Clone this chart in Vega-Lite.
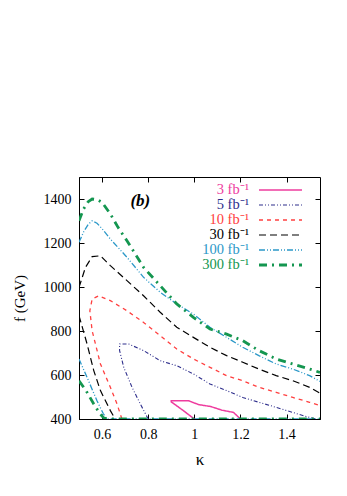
{
  "$schema": "https://vega.github.io/schema/vega-lite/v6.json",
  "autosize": {"type": "none"},
  "padding": {"left": 79, "top": 177, "right": 27, "bottom": 77},
  "width": 241,
  "height": 242,
  "background": "white",
  "config": {
    "view": {"stroke": "black", "strokeWidth": 1},
    "font": "Liberation Serif",
    "axis": {
      "labelFont": "Liberation Serif", "titleFont": "Liberation Serif",
      "labelFontSize": 14, "titleFontSize": 16, "titleFontWeight": "normal",
      "labelColor": "black", "titleColor": "black",
      "domainColor": "black", "tickColor": "black", "tickSize": -5, "grid": false
    }
  },
  "resolve": {"axis": {"x": "independent", "y": "independent"}},
  "datasets": {
    "curves": [
      {"s": "3 fb⁻¹", "g": "3a", "o": 1, "k": 1.0, "f": 400},
      {"s": "3 fb⁻¹", "g": "3a", "o": 2, "k": 0.95, "f": 440},
      {"s": "3 fb⁻¹", "g": "3a", "o": 3, "k": 0.9, "f": 478},
      {"s": "3 fb⁻¹", "g": "3a", "o": 4, "k": 0.9, "f": 483},
      {"s": "3 fb⁻¹", "g": "3a", "o": 5, "k": 0.975, "f": 483},
      {"s": "3 fb⁻¹", "g": "3a", "o": 6, "k": 1.02, "f": 465},
      {"s": "3 fb⁻¹", "g": "3a", "o": 7, "k": 1.07, "f": 457},
      {"s": "3 fb⁻¹", "g": "3a", "o": 8, "k": 1.12, "f": 440},
      {"s": "3 fb⁻¹", "g": "3a", "o": 9, "k": 1.17, "f": 430},
      {"s": "3 fb⁻¹", "g": "3a", "o": 10, "k": 1.2, "f": 400},

      {"s": "5 fb⁻¹", "g": "5a", "o": 1, "k": 0.8, "f": 400},
      {"s": "5 fb⁻¹", "g": "5a", "o": 2, "k": 0.766, "f": 468},
      {"s": "5 fb⁻¹", "g": "5a", "o": 3, "k": 0.73, "f": 544},
      {"s": "5 fb⁻¹", "g": "5a", "o": 4, "k": 0.694, "f": 635},
      {"s": "5 fb⁻¹", "g": "5a", "o": 5, "k": 0.676, "f": 711},
      {"s": "5 fb⁻¹", "g": "5a", "o": 6, "k": 0.676, "f": 741},
      {"s": "5 fb⁻¹", "g": "5a", "o": 7, "k": 0.715, "f": 741},
      {"s": "5 fb⁻¹", "g": "5a", "o": 8, "k": 0.78, "f": 711},
      {"s": "5 fb⁻¹", "g": "5a", "o": 9, "k": 0.852, "f": 665},
      {"s": "5 fb⁻¹", "g": "5a", "o": 10, "k": 0.924, "f": 642},
      {"s": "5 fb⁻¹", "g": "5a", "o": 11, "k": 0.996, "f": 605},
      {"s": "5 fb⁻¹", "g": "5a", "o": 12, "k": 1.068, "f": 559},
      {"s": "5 fb⁻¹", "g": "5a", "o": 13, "k": 1.14, "f": 529},
      {"s": "5 fb⁻¹", "g": "5a", "o": 14, "k": 1.21, "f": 498},
      {"s": "5 fb⁻¹", "g": "5a", "o": 15, "k": 1.28, "f": 476},
      {"s": "5 fb⁻¹", "g": "5a", "o": 16, "k": 1.355, "f": 453},
      {"s": "5 fb⁻¹", "g": "5a", "o": 17, "k": 1.427, "f": 430},
      {"s": "5 fb⁻¹", "g": "5a", "o": 18, "k": 1.485, "f": 411},
      {"s": "5 fb⁻¹", "g": "5a", "o": 19, "k": 1.528, "f": 400},

      {"s": "10 fb⁻¹", "g": "10a", "o": 1, "k": 0.686, "f": 400},
      {"s": "10 fb⁻¹", "g": "10a", "o": 2, "k": 0.665, "f": 468},
      {"s": "10 fb⁻¹", "g": "10a", "o": 3, "k": 0.636, "f": 544},
      {"s": "10 fb⁻¹", "g": "10a", "o": 4, "k": 0.593, "f": 650},
      {"s": "10 fb⁻¹", "g": "10a", "o": 5, "k": 0.557, "f": 801},
      {"s": "10 fb⁻¹", "g": "10a", "o": 6, "k": 0.547, "f": 892},
      {"s": "10 fb⁻¹", "g": "10a", "o": 7, "k": 0.557, "f": 945},
      {"s": "10 fb⁻¹", "g": "10a", "o": 8, "k": 0.585, "f": 960},
      {"s": "10 fb⁻¹", "g": "10a", "o": 9, "k": 0.636, "f": 938},
      {"s": "10 fb⁻¹", "g": "10a", "o": 10, "k": 0.708, "f": 892},
      {"s": "10 fb⁻¹", "g": "10a", "o": 11, "k": 0.78, "f": 839},
      {"s": "10 fb⁻¹", "g": "10a", "o": 12, "k": 0.852, "f": 779},
      {"s": "10 fb⁻¹", "g": "10a", "o": 13, "k": 0.924, "f": 718},
      {"s": "10 fb⁻¹", "g": "10a", "o": 14, "k": 0.996, "f": 673},
      {"s": "10 fb⁻¹", "g": "10a", "o": 15, "k": 1.068, "f": 635},
      {"s": "10 fb⁻¹", "g": "10a", "o": 16, "k": 1.14, "f": 597},
      {"s": "10 fb⁻¹", "g": "10a", "o": 17, "k": 1.21, "f": 574},
      {"s": "10 fb⁻¹", "g": "10a", "o": 18, "k": 1.28, "f": 544},
      {"s": "10 fb⁻¹", "g": "10a", "o": 19, "k": 1.355, "f": 521},
      {"s": "10 fb⁻¹", "g": "10a", "o": 20, "k": 1.427, "f": 498},
      {"s": "10 fb⁻¹", "g": "10a", "o": 21, "k": 1.5, "f": 476},
      {"s": "10 fb⁻¹", "g": "10a", "o": 22, "k": 1.545, "f": 461},

      {"s": "30 fb⁻¹", "g": "30a", "o": 1, "k": 0.5, "f": 998},
      {"s": "30 fb⁻¹", "g": "30a", "o": 2, "k": 0.528, "f": 1089},
      {"s": "30 fb⁻¹", "g": "30a", "o": 3, "k": 0.557, "f": 1138},
      {"s": "30 fb⁻¹", "g": "30a", "o": 4, "k": 0.593, "f": 1142},
      {"s": "30 fb⁻¹", "g": "30a", "o": 5, "k": 0.636, "f": 1097},
      {"s": "30 fb⁻¹", "g": "30a", "o": 6, "k": 0.708, "f": 1029},
      {"s": "30 fb⁻¹", "g": "30a", "o": 7, "k": 0.78, "f": 960},
      {"s": "30 fb⁻¹", "g": "30a", "o": 8, "k": 0.852, "f": 885},
      {"s": "30 fb⁻¹", "g": "30a", "o": 9, "k": 0.924, "f": 817},
      {"s": "30 fb⁻¹", "g": "30a", "o": 10, "k": 0.996, "f": 771},
      {"s": "30 fb⁻¹", "g": "30a", "o": 11, "k": 1.068, "f": 726},
      {"s": "30 fb⁻¹", "g": "30a", "o": 12, "k": 1.14, "f": 688},
      {"s": "30 fb⁻¹", "g": "30a", "o": 13, "k": 1.21, "f": 658},
      {"s": "30 fb⁻¹", "g": "30a", "o": 14, "k": 1.28, "f": 627},
      {"s": "30 fb⁻¹", "g": "30a", "o": 15, "k": 1.355, "f": 597},
      {"s": "30 fb⁻¹", "g": "30a", "o": 16, "k": 1.427, "f": 574},
      {"s": "30 fb⁻¹", "g": "30a", "o": 17, "k": 1.5, "f": 544},
      {"s": "30 fb⁻¹", "g": "30a", "o": 18, "k": 1.545, "f": 517},
      {"s": "30 fb⁻¹", "g": "30b", "o": 1, "k": 0.5, "f": 870},
      {"s": "30 fb⁻¹", "g": "30b", "o": 2, "k": 0.535, "f": 741},
      {"s": "30 fb⁻¹", "g": "30b", "o": 3, "k": 0.564, "f": 620},
      {"s": "30 fb⁻¹", "g": "30b", "o": 4, "k": 0.593, "f": 529},
      {"s": "30 fb⁻¹", "g": "30b", "o": 5, "k": 0.636, "f": 438},
      {"s": "30 fb⁻¹", "g": "30b", "o": 6, "k": 0.657, "f": 400},

      {"s": "100 fb⁻¹", "g": "100a", "o": 1, "k": 0.5, "f": 1203},
      {"s": "100 fb⁻¹", "g": "100a", "o": 2, "k": 0.52, "f": 1250},
      {"s": "100 fb⁻¹", "g": "100a", "o": 3, "k": 0.54, "f": 1285},
      {"s": "100 fb⁻¹", "g": "100a", "o": 4, "k": 0.557, "f": 1301},
      {"s": "100 fb⁻¹", "g": "100a", "o": 5, "k": 0.578, "f": 1290},
      {"s": "100 fb⁻¹", "g": "100a", "o": 6, "k": 0.6, "f": 1265},
      {"s": "100 fb⁻¹", "g": "100a", "o": 7, "k": 0.636, "f": 1218},
      {"s": "100 fb⁻¹", "g": "100a", "o": 8, "k": 0.708, "f": 1135},
      {"s": "100 fb⁻¹", "g": "100a", "o": 9, "k": 0.78, "f": 1044},
      {"s": "100 fb⁻¹", "g": "100a", "o": 10, "k": 0.852, "f": 976},
      {"s": "100 fb⁻¹", "g": "100a", "o": 11, "k": 0.924, "f": 923},
      {"s": "100 fb⁻¹", "g": "100a", "o": 12, "k": 0.996, "f": 877},
      {"s": "100 fb⁻¹", "g": "100a", "o": 13, "k": 1.068, "f": 817},
      {"s": "100 fb⁻¹", "g": "100a", "o": 14, "k": 1.14, "f": 771},
      {"s": "100 fb⁻¹", "g": "100a", "o": 15, "k": 1.21, "f": 726},
      {"s": "100 fb⁻¹", "g": "100a", "o": 16, "k": 1.28, "f": 688},
      {"s": "100 fb⁻¹", "g": "100a", "o": 17, "k": 1.355, "f": 650},
      {"s": "100 fb⁻¹", "g": "100a", "o": 18, "k": 1.427, "f": 627},
      {"s": "100 fb⁻¹", "g": "100a", "o": 19, "k": 1.5, "f": 597},
      {"s": "100 fb⁻¹", "g": "100a", "o": 20, "k": 1.545, "f": 571},
      {"s": "100 fb⁻¹", "g": "100b", "o": 1, "k": 0.5, "f": 673},
      {"s": "100 fb⁻¹", "g": "100b", "o": 2, "k": 0.535, "f": 589},
      {"s": "100 fb⁻¹", "g": "100b", "o": 3, "k": 0.578, "f": 483},
      {"s": "100 fb⁻¹", "g": "100b", "o": 4, "k": 0.605, "f": 425},
      {"s": "100 fb⁻¹", "g": "100b", "o": 5, "k": 0.62, "f": 401},
      {"s": "100 fb⁻¹", "g": "100b", "o": 6, "k": 1.545, "f": 401},

      {"s": "300 fb⁻¹", "g": "300a", "o": 1, "k": 0.5, "f": 1301},
      {"s": "300 fb⁻¹", "g": "300a", "o": 2, "k": 0.52, "f": 1355},
      {"s": "300 fb⁻¹", "g": "300a", "o": 3, "k": 0.54, "f": 1388},
      {"s": "300 fb⁻¹", "g": "300a", "o": 4, "k": 0.557, "f": 1400},
      {"s": "300 fb⁻¹", "g": "300a", "o": 5, "k": 0.58, "f": 1397},
      {"s": "300 fb⁻¹", "g": "300a", "o": 6, "k": 0.6, "f": 1385},
      {"s": "300 fb⁻¹", "g": "300a", "o": 7, "k": 0.636, "f": 1332},
      {"s": "300 fb⁻¹", "g": "300a", "o": 8, "k": 0.67, "f": 1270},
      {"s": "300 fb⁻¹", "g": "300a", "o": 9, "k": 0.708, "f": 1210},
      {"s": "300 fb⁻¹", "g": "300a", "o": 10, "k": 0.75, "f": 1140},
      {"s": "300 fb⁻¹", "g": "300a", "o": 11, "k": 0.78, "f": 1089},
      {"s": "300 fb⁻¹", "g": "300a", "o": 12, "k": 0.852, "f": 1006},
      {"s": "300 fb⁻¹", "g": "300a", "o": 13, "k": 0.924, "f": 923},
      {"s": "300 fb⁻¹", "g": "300a", "o": 14, "k": 0.996, "f": 862},
      {"s": "300 fb⁻¹", "g": "300a", "o": 15, "k": 1.068, "f": 809},
      {"s": "300 fb⁻¹", "g": "300a", "o": 16, "k": 1.14, "f": 786},
      {"s": "300 fb⁻¹", "g": "300a", "o": 17, "k": 1.21, "f": 756},
      {"s": "300 fb⁻¹", "g": "300a", "o": 18, "k": 1.28, "f": 711},
      {"s": "300 fb⁻¹", "g": "300a", "o": 19, "k": 1.355, "f": 673},
      {"s": "300 fb⁻¹", "g": "300a", "o": 20, "k": 1.427, "f": 650},
      {"s": "300 fb⁻¹", "g": "300a", "o": 21, "k": 1.5, "f": 627},
      {"s": "300 fb⁻¹", "g": "300a", "o": 22, "k": 1.545, "f": 612},
      {"s": "300 fb⁻¹", "g": "300b", "o": 1, "k": 0.5, "f": 574},
      {"s": "300 fb⁻¹", "g": "300b", "o": 2, "k": 0.53, "f": 530},
      {"s": "300 fb⁻¹", "g": "300b", "o": 3, "k": 0.564, "f": 468},
      {"s": "300 fb⁻¹", "g": "300b", "o": 4, "k": 0.59, "f": 425},
      {"s": "300 fb⁻¹", "g": "300b", "o": 5, "k": 0.607, "f": 405},
      {"s": "300 fb⁻¹", "g": "300b", "o": 6, "k": 0.62, "f": 401},
      {"s": "300 fb⁻¹", "g": "300b", "o": 7, "k": 1.545, "f": 401}
    ]
  },
  "layer": [
    {
      "data": {"name": "curves"},
      "mark": {"type": "line", "clip": true},
      "encoding": {
        "x": {"field": "k", "type": "quantitative",
              "scale": {"domain": [0.5, 1.545], "nice": false, "zero": false},
              "axis": {"title": "κ", "values": [0.6, 0.8, 1, 1.2, 1.4], "format": "~g", "labelPadding": 13, "titlePadding": 10, "titleFontSize": 17}},
        "y": {"field": "f", "type": "quantitative",
              "scale": {"domain": [400, 1500], "nice": false, "zero": false},
              "axis": {"title": "f (GeV)", "values": [400, 600, 800, 1000, 1200, 1400], "format": "d", "labelPadding": 13, "titlePadding": 16, "titleFontSize": 15}},
        "detail": {"field": "g"},
        "order": {"field": "o"},
        "color": {"field": "s", "type": "nominal",
                  "scale": {"domain": ["3 fb⁻¹", "5 fb⁻¹", "10 fb⁻¹", "30 fb⁻¹", "100 fb⁻¹", "300 fb⁻¹"],
                            "range": ["#ee3c9e", "#2e2e8c", "#ff4040", "#000000", "#2b98c8", "#149650"]},
                  "legend": {
                    "title": null, "orient": "none", "legendX": 180, "legendY": 6,
                    "symbolType": "stroke", "symbolSize": 100, "labelFont": "Liberation Serif", "labelFontSize": 14.5,
                    "rowPadding": 0, "clipHeight": 14,
                    "encode": {
                      "entries": {"update": {"width": {"value": 50}, "height": {"value": 14}}},
                      "symbols": {"update": {"size": {"value": 1850}, "xc": {"value": 21.5}, "clip": {"value": false}}},
                      "labels": {"update": {"x": {"value": -10}, "align": {"value": "right"}, "fill": {"scale": "color", "field": "value"}}}
                    }
                  }},
        "strokeDash": {"field": "s", "type": "nominal",
                  "scale": {"domain": ["3 fb⁻¹", "5 fb⁻¹", "10 fb⁻¹", "30 fb⁻¹", "100 fb⁻¹", "300 fb⁻¹"],
                            "range": [[1, 0], [4, 2, 1, 2, 1, 2], [4, 4], [7, 4], [6, 2, 1, 2, 1, 2], [8, 5, 2, 5]]},
                  "legend": null},
        "strokeWidth": {"field": "s", "type": "nominal",
                  "scale": {"type": "ordinal", "domain": ["3 fb⁻¹", "5 fb⁻¹", "10 fb⁻¹", "30 fb⁻¹", "100 fb⁻¹", "300 fb⁻¹"],
                            "range": [1.5, 1.1, 1.3, 1.2, 1.3, 2.8]},
                  "legend": null}
      }
    },
    {
      "data": {"values": [{}]},
      "mark": {"type": "text", "text": "(b)", "font": "Liberation Serif", "fontSize": 17, "fontWeight": "bold", "fontStyle": "italic", "align": "center", "baseline": "middle"},
      "encoding": {
        "x": {"datum": 0.766, "type": "quantitative", "axis": {"orient": "top", "labels": false, "title": null, "values": [0.6, 0.8, 1, 1.2, 1.4], "domain": false}},
        "y": {"datum": 1392, "type": "quantitative", "axis": {"orient": "right", "labels": false, "title": null, "values": [400, 600, 800, 1000, 1200, 1400], "domain": false}}
      }
    }
  ]
}
